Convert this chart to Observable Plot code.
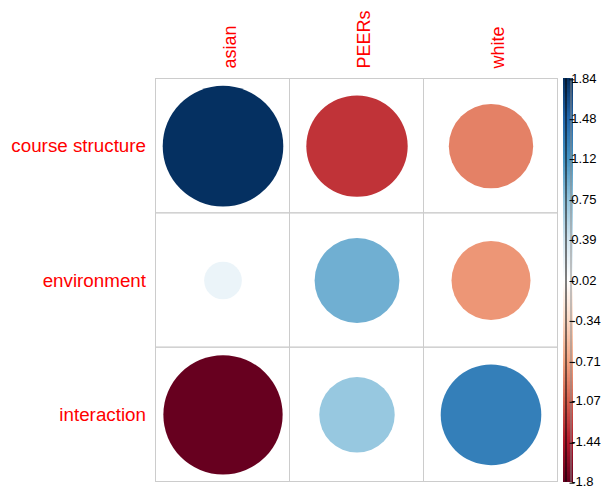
<!DOCTYPE html>
<html>
<head>
<meta charset="utf-8">
<script src="https://cdn.jsdelivr.net/npm/d3@7"></script>
<script src="https://cdn.jsdelivr.net/npm/@observablehq/plot@0.6"></script>
<style>
  html, body { margin: 0; padding: 0; background: #fff; }
  #chart { position: relative; width: 601px; height: 489px; font-family: "Liberation Sans", Arial, sans-serif; }
  #chart svg { position: absolute; left: 0; top: 0; overflow: visible; }
</style>
</head>
<body>
<div id="chart"></div>
<script>
// ---- data ----
const rows = ["course structure", "environment", "interaction"];
const cols = ["asian", "PEERs", "white"];
const asian = [1.84, 0.18, -1.80];
const peers = [-1.30, 0.91, 0.72];
const white = [-0.90, -0.79, 1.28];
const legendTicks = [1.84, 1.48, 1.12, 0.75, 0.39, 0.02, -0.34, -0.71, -1.07, -1.44, -1.8];
const paletteColors = ["#67001F", "#B2182B", "#D6604D", "#F4A582", "#FDDBC7", "#FFFFFF",
                       "#D1E5F0", "#92C5DE", "#4393C3", "#2166AC", "#053061"];

const series = {asian, PEERs: peers, white};
const data = [];
cols.forEach(c => rows.forEach((r, i) => data.push({col: c, row: r, value: series[c][i]})));
const grid = [];
cols.forEach(c => rows.forEach(r => grid.push({col: c, row: r})));

const stops = legendTicks.slice().sort((a, b) => a - b);
const vmin = stops[0], vmax = stops[stops.length - 1];
const colorScale = {type: "linear", domain: stops, range: paletteColors, interpolate: "rgb"};
const maxAbs = d3.max(data, d => Math.abs(d.value));

const font = "Liberation Sans, Arial, sans-serif";
const W = 601, H = 489;

const main = Plot.plot({
  width: W, height: H,
  marginLeft: 155.5, marginRight: 43.5, marginTop: 78.5, marginBottom: 7.5,
  style: {fontFamily: font, background: "transparent"},
  x: {type: "band", domain: cols, padding: 0, round: false, axis: null},
  y: {type: "band", domain: rows, padding: 0, round: false, axis: null},
  r: {type: "sqrt", domain: [0, maxAbs], range: [0, 0.45 * 134]},
  color: colorScale,
  marks: [
    Plot.cell(grid, {x: "col", y: "row", fill: "none", stroke: "#cccccc", strokeWidth: 1}),
    Plot.dot(data, {x: "col", y: "row", r: d => Math.abs(d.value), fill: "value", stroke: null}),
    Plot.text(cols, {x: d => d, frameAnchor: "top", dy: -10.5, rotate: -90, textAnchor: "start",
                     fill: "#FF0000", fontSize: 18}),
    Plot.text(rows, {y: d => d, frameAnchor: "left", dx: -10, textAnchor: "end",
                     fill: "#FF0000", fontSize: 18.8})
  ]
});

// ---- colour bar ----
const nSlices = 300;
const slices = d3.range(nSlices).map(i => {
  const a = vmin + (vmax - vmin) * i / nSlices;
  const b = vmin + (vmax - vmin) * (i + 1) / nSlices;
  return {y1: a, y2: b, v: (a + b) / 2};
});
const legend = Plot.plot({
  width: W, height: H,
  marginLeft: 562, marginRight: 28.3, marginTop: 78.3, marginBottom: 7.3,
  style: {fontFamily: font, background: "transparent"},
  x: {domain: [0, 1], axis: null},
  y: {domain: [vmin, vmax], axis: null},
  color: colorScale,
  marks: [
    Plot.rect(slices, {x1: 0, x2: 1, y1: "y1", y2: "y2", fill: "v", inset: 0, shapeRendering: "crispEdges"}),
    Plot.ruleX([0], {stroke: "#000", strokeWidth: 1}),
    Plot.ruleX([1], {stroke: "#888", strokeWidth: 1}),
    Plot.tickY(legendTicks, {y: d => d, x: 1, dx: 1.5, dy: 1, stroke: "#000"}),
    Plot.text(legendTicks, {y: d => d, frameAnchor: "right", dx: -2, dy: 0, text: d => String(d),
                            textAnchor: "start", fill: "#000", fontSize: 13, letterSpacing: -0.2})
  ]
});

const el = document.getElementById("chart");
el.appendChild(main);
el.appendChild(legend);
</script>
</body>
</html>
